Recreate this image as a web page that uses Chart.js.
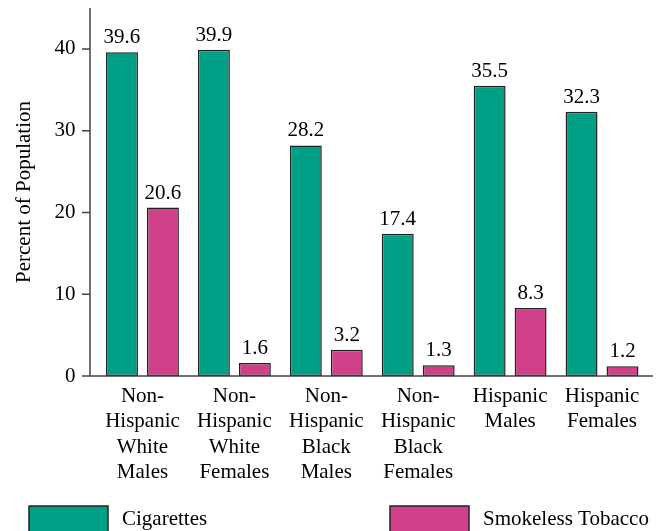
<!DOCTYPE html>
<html>
<head>
<meta charset="utf-8">
<script src="https://cdn.jsdelivr.net/npm/chart.js@4"></script>
<style>
  html, body { margin: 0; padding: 0; background: #fff; }
  #wrap { width: 667px; height: 531px; position: relative; }
</style>
</head>
<body>
<div id="wrap"><canvas id="chart"></canvas></div>
<script>
const groups = [
    ['Non-', 'Hispanic', 'White', 'Males'],
    ['Non-', 'Hispanic', 'White', 'Females'],
    ['Non-', 'Hispanic', 'Black', 'Males'],
    ['Non-', 'Hispanic', 'Black', 'Females'],
    ['Hispanic', 'Males'],
    ['Hispanic', 'Females']
];
const cigarettes = [39.6, 39.9, 28.2, 17.4, 35.5, 32.3];
const smokeless = [20.6, 1.6, 3.2, 1.3, 8.3, 1.2];
const yTicks = [0, 10, 20, 30, 40];

const FONT = '"Liberation Serif", "Times New Roman", serif';
const GREEN = '#00a086';
const PINK = '#d0418a';

// value above each bar
const barValues = {
    id: 'barValues',
    afterDatasetsDraw(chart) {
        const ctx = chart.ctx;
        ctx.save();
        ctx.font = '21px ' + FONT;
        ctx.fillStyle = '#000';
        ctx.textAlign = 'center';
        ctx.textBaseline = 'alphabetic';
        chart.data.datasets.forEach((ds, i) => {
            chart.getDatasetMeta(i).data.forEach((bar, j) => {
                ctx.fillText(ds.data[j].toFixed(1), bar.x, bar.y - 9);
            });
        });
        ctx.restore();
    }
};

// axis lines sit a bit outside the category range, like the original
const axisLines = {
    id: 'axisLines',
    afterDatasetsDraw(chart) {
        const { ctx, chartArea, scales } = chart;
        const x0 = chartArea.left - 6.5;
        const x1 = chartArea.right + 5;
        const y0 = scales.y.getPixelForValue(0);
        ctx.save();
        ctx.strokeStyle = '#444';
        ctx.lineWidth = 1.5;
        ctx.beginPath();
        ctx.moveTo(x0, chartArea.top);
        ctx.lineTo(x0, y0);
        ctx.moveTo(x0 - 8, y0);
        ctx.lineTo(x1, y0);
        yTicks.forEach(v => {
            const y = scales.y.getPixelForValue(v);
            ctx.moveTo(x0 - 8, y);
            ctx.lineTo(x0, y);
        });
        ctx.stroke();
        ctx.restore();
    }
};

const legendBoxes = {
    id: 'legendBoxes',
    afterDraw(chart) {
        const ctx = chart.ctx;
        const spots = [29, 390];
        ctx.save();
        ctx.font = '21px ' + FONT;
        ctx.textBaseline = 'alphabetic';
        chart.data.datasets.forEach((ds, i) => {
            const x = spots[i];
            ctx.fillStyle = ds.backgroundColor;
            ctx.fillRect(x, 506, 79, 30);
            ctx.strokeStyle = '#222';
            ctx.lineWidth = 1.5;
            ctx.strokeRect(x, 506, 79, 30);
            ctx.fillStyle = '#000';
            ctx.fillText(ds.label, x + 93, 525);
        });
        ctx.restore();
    }
};

new Chart(document.getElementById('chart'), {
    type: 'bar',
    data: {
        labels: groups,
        datasets: [
            {
                label: 'Cigarettes',
                data: cigarettes,
                backgroundColor: GREEN,
                borderColor: '#222',
                borderWidth: 1.5,
                borderSkipped: false
            },
            {
                label: 'Smokeless Tobacco',
                data: smokeless,
                backgroundColor: PINK,
                borderColor: '#222',
                borderWidth: 1.5,
                borderSkipped: false
            }
        ]
    },
    options: {
        responsive: true,
        maintainAspectRatio: false,
        animation: false,
        devicePixelRatio: 1,
        categoryPercentage: 0.891,
        barPercentage: 0.78,
        layout: { padding: { top: 8, right: 19, left: 0, bottom: 0 } },
        plugins: {
            legend: { display: false },
            tooltip: { enabled: false }
        },
        scales: {
            x: {
                grid: { display: false, drawTicks: false },
                border: { display: false },
                ticks: {
                    color: '#000',
                    padding: 8,
                    maxRotation: 0,
                    autoSkip: false,
                    font: { family: FONT, size: 21, lineHeight: 1.2 }
                },
                afterFit(scale) { scale.height = 155; }
            },
            y: {
                min: 0,
                max: 45,
                grid: { display: false, drawTicks: false },
                border: { display: false },
                afterBuildTicks(scale) {
                    scale.ticks = yTicks.map(v => ({ value: v }));
                },
                ticks: {
                    color: '#000',
                    padding: 21,
                    font: { family: FONT, size: 21 }
                },
                title: {
                    display: true,
                    text: 'Percent of Population',
                    color: '#000',
                    padding: { top: 12, bottom: 0 },
                    font: { family: FONT, size: 21, lineHeight: 1.2 }
                },
                afterFit(scale) {
                    scale.width = 96.5;
                    scale.paddingTop = 0;
                    scale.paddingBottom = 0;
                }
            }
        }
    },
    plugins: [barValues, axisLines, legendBoxes]
});
</script>
</body>
</html>
